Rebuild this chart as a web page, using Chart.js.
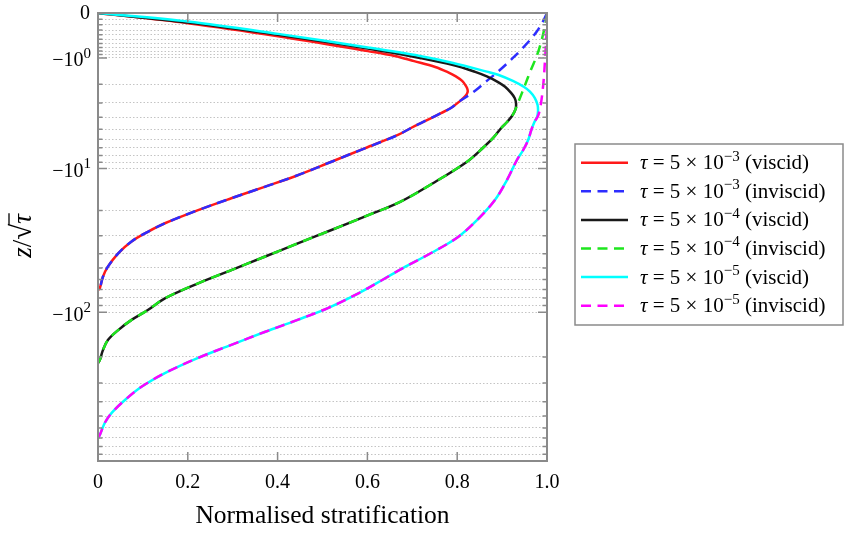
<!DOCTYPE html>
<html>
<head>
<meta charset="utf-8">
<script src="https://cdn.jsdelivr.net/npm/chart.js@4.4.1/dist/chart.umd.min.js"></script>
<style>
  html, body { margin: 0; padding: 0; background: #fff; }
  #wrap { width: 845px; height: 533px; }
</style>
</head>
<body>
<div id="wrap"><canvas id="chart"></canvas></div>
<script>
// x = normalised stratification, z = z / sqrt(tau)
const visc3X = [0, 0.200, 0.401, 0.601, 0.661, 0.704, 0.751, 0.780, 0.797, 0.811, 0.820, 0.823, 0.823, 0.818, 0.806, 0.786, 0.764, 0.742, 0.719, 0.697, 0.668, 0.594, 0.520, 0.445, 0.371, 0.297, 0.223, 0.149, 0.111, 0.074, 0.045, 0.022, 0.011, 0.004, 0];
const visc3Z = [0, -0.17, -0.43, -0.80, -0.94, -1.10, -1.30, -1.50, -1.66, -1.85, -2.10, -2.25, -2.40, -2.60, -2.89, -3.33, -3.68, -4.05, -4.46, -4.89, -5.56, -7.06, -8.91, -11.2, -13.6, -16.4, -19.9, -24.6, -28.2, -33.0, -39.7, -49.0, -57.4, -68.8, -70.7];

const invisc3X = [1, 0.993, 0.978, 0.962, 0.944, 0.924, 0.895, 0.866, 0.842, 0.820, 0.806, 0.786, 0.764, 0.742, 0.719, 0.697, 0.668, 0.594, 0.520, 0.445, 0.371, 0.297, 0.223, 0.149, 0.111, 0.074, 0.045, 0.022, 0.011, 0.004, 0];
const invisc3Z = [0, -0.11, -0.32, -0.52, -0.74, -1.00, -1.41, -1.85, -2.28, -2.65, -2.89, -3.33, -3.68, -4.05, -4.46, -4.89, -5.56, -7.06, -8.91, -11.2, -13.6, -16.4, -19.9, -24.6, -28.2, -33.0, -39.7, -49.0, -57.4, -68.8, -70.7];

const visc4X = [0, 0.200, 0.401, 0.601, 0.717, 0.791, 0.840, 0.866, 0.891, 0.906, 0.920, 0.928, 0.931, 0.930, 0.922, 0.911, 0.898, 0.880, 0.857, 0.822, 0.746, 0.673, 0.594, 0.520, 0.445, 0.371, 0.297, 0.223, 0.149, 0.111, 0.074, 0.045, 0.022, 0.011, 0.004, 0];
const visc4Z = [0, -0.16, -0.40, -0.73, -1.00, -1.23, -1.48, -1.66, -1.90, -2.11, -2.43, -2.71, -3.01, -3.40, -3.90, -4.37, -4.89, -5.87, -7.02, -8.90, -12.8, -17.4, -22.1, -27.4, -33.9, -41.9, -51.7, -63.6, -80.5, -96.6, -113, -132, -154, -180, -210, -220];

const invisc4X = [1, 0.996, 0.988, 0.978, 0.964, 0.951, 0.938, 0.930, 0.922, 0.911, 0.898, 0.880, 0.857, 0.822, 0.746, 0.673, 0.594, 0.520, 0.445, 0.371, 0.297, 0.223, 0.149, 0.111, 0.074, 0.045, 0.022, 0.011, 0.004, 0];
const invisc4Z = [0, -0.20, -0.52, -0.91, -1.41, -2.04, -2.83, -3.40, -3.90, -4.37, -4.89, -5.87, -7.02, -8.90, -12.8, -17.4, -22.1, -27.4, -33.9, -41.9, -51.7, -63.6, -80.5, -96.6, -113, -132, -154, -180, -210, -220];

const visc5X = [0, 0.200, 0.401, 0.601, 0.717, 0.791, 0.866, 0.891, 0.924, 0.949, 0.962, 0.973, 0.979, 0.980, 0.978, 0.972, 0.965, 0.958, 0.947, 0.933, 0.911, 0.884, 0.844, 0.802, 0.742, 0.679, 0.633, 0.581, 0.512, 0.443, 0.371, 0.297, 0.223, 0.149, 0.096, 0.060, 0.030, 0.015, 0.004, 0];
const visc5Z = [0, -0.14, -0.38, -0.70, -0.94, -1.16, -1.47, -1.59, -1.85, -2.13, -2.36, -2.71, -3.13, -3.53, -3.97, -4.37, -5.08, -6.09, -7.27, -8.65, -12.1, -16.9, -23.4, -30.6, -39.5, -50.1, -60.4, -74.1, -93.6, -113, -136, -166, -203, -257, -319, -390, -477, -556, -670, -701];

const invisc5X = [1, 0.999, 0.996, 0.992, 0.986, 0.980, 0.972, 0.965, 0.958, 0.947, 0.933, 0.911, 0.884, 0.844, 0.802, 0.742, 0.679, 0.633, 0.581, 0.512, 0.443, 0.371, 0.297, 0.223, 0.149, 0.096, 0.060, 0.030, 0.015, 0.004, 0];
const invisc5Z = [0, -0.36, -0.96, -1.94, -3.13, -3.90, -4.37, -5.08, -6.09, -7.27, -8.65, -12.1, -16.9, -23.4, -30.6, -39.5, -50.1, -60.4, -74.1, -93.6, -113, -136, -166, -203, -257, -319, -390, -477, -556, -670, -701];

// axis ticks
const xTicks = [0, 0.2, 0.4, 0.6, 0.8, 1];
const xTickLabels = ['0', '0.2', '0.4', '0.6', '0.8', '1.0'];
const yMajor = [0, -1, -10, -100];
const yMajorExp = ['', '0', '1', '2'];
const yMinor = [-0.1, -0.2, -0.3, -0.4, -0.5, -0.6, -0.7, -0.8, -0.9,
  -2, -3, -4, -5, -6, -7, -8, -9,
  -20, -30, -40, -50, -60, -70, -80, -90,
  -200, -300, -400, -500, -600, -700, -800, -900];

const tauExp = ['−3', '−3', '−4', '−4', '−5', '−5'];
const kinds = ['viscid', 'inviscid', 'viscid', 'inviscid', 'viscid', 'inviscid'];

const serif = "'Liberation Serif', 'Times New Roman', serif";

// y axis: sign(z) * log10(1 + |z|)
const slog = v => Math.sign(v) * Math.log10(1 + Math.abs(v));

class SymLogScale extends Chart.Scale {
  determineDataLimits() {
    this.min = this.options.min;
    this.max = this.options.max;
  }
  buildTicks() {
    const all = yMajor.concat(yMinor).sort((a, b) => b - a);
    return all.map(v => ({ value: v, major: yMajor.includes(v) }));
  }
  configure() {
    super.configure();
    this._start = slog(this.min);
    this._range = slog(this.max) - slog(this.min);
  }
  getLabelForValue(v) { return String(v); }
  getPixelForValue(v) {
    return this.getPixelForDecimal((slog(v) - this._start) / this._range);
  }
  getValueForPixel(p) {
    const t = this.getDecimalForPixel(p) * this._range + this._start;
    return Math.sign(t) * (Math.pow(10, Math.abs(t)) - 1);
  }
}
SymLogScale.id = 'symlog';
SymLogScale.defaults = {};
Chart.register(SymLogScale);

const toPts = (xs, zs) => xs.map((x, i) => ({ x: x, y: zs[i] }));

function series(xs, zs, color, dashed, order) {
  return {
    data: toPts(xs, zs),
    borderColor: color,
    borderWidth: 2.5,
    borderDash: dashed ? [10, 6.5] : [],
    showLine: true,
    tension: 0.35,
    pointRadius: 0,
    fill: false,
    order: order
  };
}

const datasets = [
  series(visc3X, visc3Z, 'rgb(255,25,25)', false, 6),
  series(invisc3X, invisc3Z, 'rgb(45,45,255)', true, 5),
  series(visc4X, visc4Z, 'rgb(25,25,25)', false, 4),
  series(invisc4X, invisc4Z, 'rgb(30,230,30)', true, 3),
  series(visc5X, visc5Z, 'rgb(0,255,255)', false, 2),
  series(invisc5X, invisc5Z, 'rgb(255,0,255)', true, 1)
];

// frame, inward ticks, y labels, y title and boxed legend
const decorPlugin = {
  id: 'decor',
  afterDraw(chart) {
    const { ctx, chartArea: a, scales: { x, y } } = chart;
    ctx.save();

    ctx.strokeStyle = '#8a8a8a';
    ctx.lineWidth = 1.5;
    ctx.beginPath();
    y.ticks.forEach(t => {
      const py = y.getPixelForValue(t.value);
      const len = t.major ? 9 : 4.5;
      ctx.moveTo(a.left, py); ctx.lineTo(a.left + len, py);
      ctx.moveTo(a.right, py); ctx.lineTo(a.right - len, py);
    });
    x.ticks.forEach(t => {
      const px = x.getPixelForValue(t.value);
      ctx.moveTo(px, a.top); ctx.lineTo(px, a.top + 9);
      ctx.moveTo(px, a.bottom); ctx.lineTo(px, a.bottom - 9);
    });
    ctx.stroke();
    ctx.lineWidth = 2;
    ctx.strokeRect(a.left, a.top, a.right - a.left, a.bottom - a.top);

    // y tick labels with superscripts
    ctx.fillStyle = '#000';
    ctx.textAlign = 'right';
    ctx.textBaseline = 'middle';
    yMajor.forEach((v, i) => {
      const py = y.getPixelForValue(v);
      const exp = yMajorExp[i];
      if (!exp) {
        ctx.font = '20px ' + serif;
        ctx.fillText('0', 90, py + 1);
        return;
      }
      ctx.font = '15px ' + serif;
      const w = ctx.measureText(exp).width;
      ctx.fillText(exp, 91, py - 4);
      ctx.font = '20px ' + serif;
      ctx.fillText('−10', 91 - w, py + 3);
    });

    // y title: z/sqrt(tau)
    ctx.save();
    ctx.translate(23, 236);
    ctx.rotate(-Math.PI / 2);
    ctx.textAlign = 'left';
    ctx.textBaseline = 'alphabetic';
    const parts = [['z', 'italic 27px '], ['/', '27px '], ['√', '29px '], ['τ', 'italic 27px ']];
    let tw = 0;
    const widths = parts.map(p => { ctx.font = p[1] + serif; const w = ctx.measureText(p[0]).width; tw += w; return w; });
    let cx = -tw / 2;
    let tauStart = 0;
    parts.forEach((p, i) => {
      ctx.font = p[1] + serif;
      if (i === 3) tauStart = cx;
      ctx.fillText(p[0], cx, 8);
      cx += widths[i];
    });
    ctx.strokeStyle = '#000';
    ctx.lineWidth = 1.3;
    ctx.beginPath();
    ctx.moveTo(tauStart - 1, -14);
    ctx.lineTo(cx + 1, -14);
    ctx.stroke();
    ctx.restore();

    // legend
    const lx = 575, ly = 144, lw = 268, lh = 181;
    ctx.fillStyle = '#fff';
    ctx.fillRect(lx, ly, lw, lh);
    ctx.strokeStyle = '#8a8a8a';
    ctx.lineWidth = 1.5;
    ctx.strokeRect(lx, ly, lw, lh);
    chart.data.datasets.forEach((ds, i) => {
      const cy = 162.7 + i * 28.6;
      ctx.strokeStyle = ds.borderColor;
      ctx.lineWidth = 2.5;
      ctx.setLineDash(ds.borderDash);
      ctx.beginPath();
      ctx.moveTo(581, cy);
      ctx.lineTo(ds.borderDash.length ? 624 : 628, cy);
      ctx.stroke();
      ctx.setLineDash([]);

      ctx.fillStyle = '#000';
      ctx.textAlign = 'left';
      ctx.textBaseline = 'middle';
      let tx = 640;
      const chunks = [
        ['τ', 'italic 21px ', 0],
        [' = 5 × 10', '21px ', 0],
        [tauExp[i], '15px ', -7],
        [' (' + kinds[i] + ')', '21px ', 0]
      ];
      chunks.forEach(c => {
        ctx.font = c[1] + serif;
        ctx.fillText(c[0], tx, cy + 1 + c[2]);
        tx += ctx.measureText(c[0]).width;
      });
    });

    ctx.restore();
  }
};

new Chart(document.getElementById('chart'), {
  type: 'scatter',
  data: { datasets: datasets },
  options: {
    responsive: true,
    maintainAspectRatio: false,
    animation: false,
    events: [],
    layout: { padding: { left: 0, top: 13, right: 298, bottom: 0 } },
    plugins: { legend: { display: false }, tooltip: { enabled: false } },
    scales: {
      x: {
        type: 'linear',
        min: 0,
        max: 1,
        afterBuildTicks: s => { s.ticks = xTicks.map(v => ({ value: v })); },
        afterFit: s => { s.height = 72; },
        ticks: {
          callback: (v, i) => xTickLabels[i],
          font: { family: serif, size: 20 },
          color: '#000',
          padding: 10,
          maxRotation: 0,
          autoSkip: false
        },
        grid: { display: false, drawTicks: false },
        border: { display: false },
        title: {
          display: true,
          text: 'Normalised stratification',
          font: { family: serif, size: 25.5 },
          color: '#000',
          padding: { top: 0, bottom: 1 }
        }
      },
      y: {
        type: 'symlog',
        min: -1000,
        max: 0,
        afterFit: s => { s.width = 98; },
        ticks: { display: false, autoSkip: false },
        grid: { color: '#c4c4c4', lineWidth: 1, drawTicks: false },
        border: { display: false, dash: [1.5, 2] }
      }
    }
  },
  plugins: [decorPlugin]
});
</script>
</body>
</html>
